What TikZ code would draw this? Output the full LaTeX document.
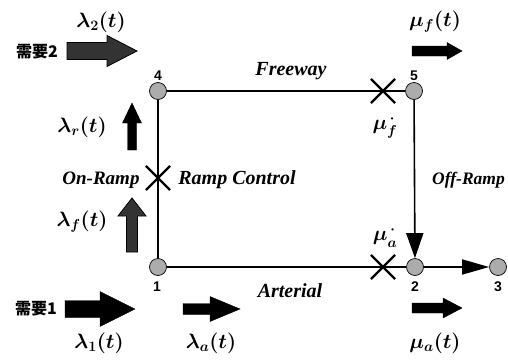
\documentclass[tikz,border=0pt]{standalone}
\usepackage{fontspec}
\usepackage{amsmath,bm}
\setmainfont{Liberation Serif}
\newfontfamily\numfont{Liberation Sans}
\newfontfamily\cjk{Noto Sans CJK SC}
\usetikzlibrary{arrows.meta,shapes.misc}
\newcommand\harrow[7]{\filldraw[#7] (#1,#3-#4) -- (#2-#6,#3-#4) -- (#2-#6,#3-#5) -- (#2,#3) -- (#2-#6,#3+#5) -- (#2-#6,#3+#4) -- (#1,#3+#4) -- cycle;}
\newcommand\varrow[7]{\filldraw[#7] (#1-#4,#2) -- (#1-#4,#3+#6) -- (#1-#5,#3+#6) -- (#1,#3) -- (#1+#5,#3+#6) -- (#1+#4,#3+#6) -- (#1+#4,#2) -- cycle;}
\begin{document}
\begin{tikzpicture}[x=1pt,y=-1pt,
 junction/.style={circle, draw=black, fill=gray!65, minimum size=17pt, inner sep=0pt, line width=0.7pt},
 road/.style={line width=1.6pt},
 xmark/.style={cross out, draw, minimum size=22pt, line width=2.2pt, inner sep=0pt},
 numlbl/.style={font=\numfont\bfseries\fontsize{14}{16}\selectfont},
 roadlbl/.style={font=\bfseries\itshape\fontsize{20}{22}\selectfont},
 rampl/.style={font=\bfseries\itshape\fontsize{19}{22}\selectfont},
 mathlbl/.style={font=\boldmath\fontsize{21}{24}\selectfont},
 cjklbl/.style={font=\cjk\bfseries\fontsize{16}{18}\selectfont},
 solidarrow/.style={fill=black, draw=black, line width=0.4pt},
 texarrow/.style={fill=black!80, draw=black, line width=0.8pt},
 flow/.style={line width=1.6pt, -{Triangle[width=17pt,length=25pt]}}
]
\useasboundingbox (0,0) rectangle (508,359);
% junctions
\node[junction] (n4) at (158,91) {};
\node[junction] (n5) at (414,91) {};
\node[junction] (n1) at (158,267) {};
\node[junction] (n2) at (415,267) {};
\node[junction] (n3) at (498,267) {};
% roads
\draw[road] (n4) -- (n5);
\draw[road] (n4) -- (n1);
\draw[road] (n1) -- (n2);
\draw[flow] (n5) -- (n2);
\draw[line width=1.6pt, -{Triangle[width=15pt,length=27pt]}] (n2) -- (n3);
% control points
\node[xmark] (xf) at (383,91) {};
\node[xmark] (xr) at (158,178) {};
\node[xmark] (xa) at (383,267) {};
% node numbers
\node[numlbl] (l4) at (158,76) {4};
\node[numlbl] (l5) at (414,76) {5};
\node[numlbl] (l1) at (157,287) {1};
\node[numlbl] (l2) at (415,287) {2};
\node[numlbl] (l3) at (498,287) {3};
% road labels
\node[roadlbl] (fw) at (291,71) {Freeway};
\node[roadlbl] (ar) at (290,291) {Arterial};
\node[rampl] (on) at (101,180) {On-Ramp};
\node[roadlbl] (rc) at (237,180) {Ramp Control};
\node[rampl, font=\bfseries\itshape\fontsize{17.5}{22}\selectfont, anchor=west, inner sep=1pt] (off) at (431,180) {Off-Ramp};
% capacities
\node[mathlbl] (muf) at (385,127) {$\mu_f^{\,\bm{\cdot}}$};
\node[mathlbl] (mua) at (385,237) {$\mu_a^{\,\bm{\cdot}}$};
% flow labels
\node[mathlbl] (lam2) at (101,22) {$\lambda_2(t)$};
\node[mathlbl] (mufl) at (435,22) {$\mu_f(t)$};
\node[mathlbl] (lamr) at (82,127) {$\lambda_r(t)$};
\node[mathlbl] (lamf) at (82,222) {$\lambda_f(t)$};
\node[mathlbl] (lam1) at (99,343) {$\lambda_1(t)$};
\node[mathlbl] (lama) at (211,343) {$\lambda_a(t)$};
\node[mathlbl] (mual) at (435,343) {$\mu_a(t)$};
\node[cjklbl] (d2) at (37,52) {需要2};
\node[cjklbl] (d1) at (36,309) {需要1};
% flow arrows
\harrow{67}{137}{51}{8.5}{15.5}{30}{texarrow}
\harrow{412}{462}{51}{5}{8.5}{15}{solidarrow}
\varrow{132}{150}{103}{4.5}{9.5}{20}{solidarrow}
\varrow{132}{252}{198}{5.5}{14}{18}{texarrow}
\harrow{65}{135}{309}{8.5}{17.5}{35}{solidarrow}
\harrow{183}{240}{309}{5.5}{12.5}{30}{solidarrow}
\harrow{412}{462}{308}{5}{10}{19}{solidarrow}
\end{tikzpicture}
\end{document}
